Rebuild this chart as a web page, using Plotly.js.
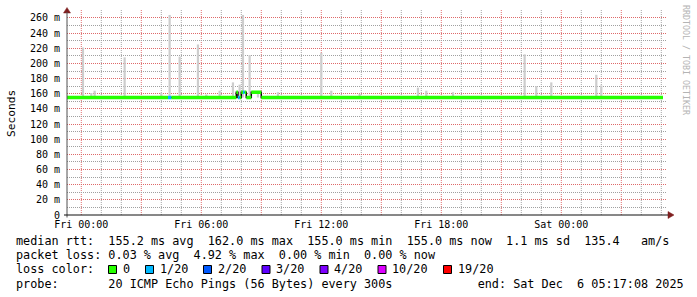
<!DOCTYPE html>
<html><head><meta charset="utf-8">
<script src="https://cdn.plot.ly/plotly-3.0.1.min.js"></script>
<style>html,body{margin:0;padding:0;background:#fff}#chart{width:697px;height:297px}</style>
</head><body><div id="chart"></div>
<script>
// ---------- data ----------
const rangeStart = '2025-12-04 23:17:08';
const rangeEnd = '2025-12-06 05:17:08';
const dataStart = '2025-12-04 23:15:00';
const dataEnd = '2025-12-06 05:05:00';
const stepSeconds = 300;
const baseMedian = 155;      // ms
// median changes (segments where median differs from base)
const medSegStart = ['2025-12-05 07:45', '2025-12-05 08:00', '2025-12-05 08:30'];
const medSegEnd   = ['2025-12-05 07:50', '2025-12-05 08:15', '2025-12-05 09:00'];
const medSegValue = [162, 162, 162];
// packet loss (pings lost out of 20)
const lossSegStart = ['2025-12-05 04:20', '2025-12-05 07:50', '2025-12-05 08:05'];
const lossSegEnd   = ['2025-12-05 04:30', '2025-12-05 07:55', '2025-12-05 08:10'];
const lossSegValue = [1, 1, 1];
// smoke (spread of ping rtts) spikes
const spikeTimes = ['2025-12-05 00:05','2025-12-05 00:30','2025-12-05 00:40','2025-12-05 02:10',
  '2025-12-05 04:00','2025-12-05 04:25','2025-12-05 04:55','2025-12-05 05:50','2025-12-05 06:15',
  '2025-12-05 06:55','2025-12-05 07:35','2025-12-05 07:55','2025-12-05 08:05','2025-12-05 08:25',
  '2025-12-05 08:50','2025-12-05 09:50','2025-12-05 12:00','2025-12-05 12:30','2025-12-05 13:55',
  '2025-12-05 16:50','2025-12-05 17:15','2025-12-05 18:35','2025-12-05 22:10','2025-12-05 22:45',
  '2025-12-05 23:30','2025-12-06 01:45','2025-12-06 02:00'];
const spikeLow  = [155,155,155,155,155,155,155,155,155,155,155,155,155,155,155,155,155,155,155,155,155,155,155,155,155,155,155];
const spikeHigh = [221,161,164,208,161,264,209,225,159,164,175,172,264,211,160,162,214,164,160,168,164,162,212,170,175,185,171];

const lossLabels = ['0', '1/20', '2/20', '3/20', '4/20', '10/20', '19/20'];
const lossThresholds = [0, 1, 2, 3, 4, 10, 19];
const lossColors = ['#26ff00', '#00b8ff', '#0059ff', '#5e00ff', '#7e00ff', '#dd00ff', '#ff0000'];

const xTickVals = ['2025-12-05 00:00','2025-12-05 03:00','2025-12-05 06:00','2025-12-05 09:00',
  '2025-12-05 12:00','2025-12-05 15:00','2025-12-05 18:00','2025-12-05 21:00','2025-12-06 00:00','2025-12-06 03:00'];
const xTickText = ['Fri 00:00','','Fri 06:00','','Fri 12:00','','Fri 18:00','','Sat 00:00',''];
const xMinorHours = 1;   // minor grid every hour
const yTickVals = [0,20,40,60,80,100,120,140,160,180,200,220,240,260];
const yTickText = ['0','20 m','40 m','60 m','80 m','100 m','120 m','140 m','160 m','180 m','200 m','220 m','240 m','260 m'];

const rttStats = [155.2, 162.0, 155.0, 155.0, 1.1];
const amPerSec = 135.4;
const lossStats = [0.03, 4.92, 0.00, 0.00];
const probeText = '20 ICMP Echo Pings (56 Bytes) every 300s';
const endText = 'end: Sat Dec  6 05:17:08 2025';

// ---------- helpers ----------
function ms(s){ const p = s.match(/\d+/g).map(Number); return Date.UTC(p[0], p[1]-1, p[2], p[3]||0, p[4]||0, p[5]||0); }
function ds(v){ return new Date(v).toISOString().replace('T',' ').slice(0,19); }
const L = 67, R = 30, T = 10, B = 82, W = 697, H = 297;
const PW = W - L - R, PH = H - T - B;
const px = p => (p - L) / PW;
const py = p => (T + PH - p) / PH;
const nb = s => s.replace(/ /g, '\u00a0');

// ---------- build steps ----------
const stepMs = stepSeconds * 1000;
const steps = [];
for (let t = ms(dataStart); t < ms(dataEnd); t += stepMs) {
  let m = baseMedian, loss = 0;
  medSegStart.forEach((s, i) => { if (t >= ms(s) && t < ms(medSegEnd[i])) m = medSegValue[i]; });
  lossSegStart.forEach((s, i) => { if (t >= ms(s) && t < ms(lossSegEnd[i])) loss = lossSegValue[i]; });
  let ci = 0; lossThresholds.forEach((th, i) => { if (loss >= th) ci = i; });
  steps.push({t, m, ci});
}

const traces = [];
// smoke
traces.push({
  type: 'bar', x: spikeTimes.map(s => ds(ms(s))), y: spikeHigh.map((h, i) => h - spikeLow[i]),
  base: spikeLow, width: 400000, marker: {color: '#cdcdcd', line: {width: 0}},
  hoverinfo: 'skip', showlegend: false
});
// median black step line
traces.push({
  type: 'scatter', mode: 'lines', x: steps.map(s => ds(s.t)).concat([ds(steps[steps.length-1].t + stepMs)]),
  y: steps.map(s => s.m).concat([steps[steps.length-1].m]),
  line: {color: '#000', width: 1.5, shape: 'hv'}, hoverinfo: 'skip', showlegend: false
});
// colored median segments by loss
lossColors.forEach((col, ci) => {
  const xs = [], ys = [];
  let i = 0;
  while (i < steps.length) {
    if (steps[i].ci !== ci) { i++; continue; }
    let j = i;
    while (j + 1 < steps.length && steps[j+1].ci === ci && steps[j+1].m === steps[i].m) j++;
    xs.push(ds(steps[i].t), ds(steps[j].t + stepMs), null);
    ys.push(steps[i].m, steps[i].m, null);
    i = j + 1;
  }
  if (xs.length) traces.push({type: 'scatter', mode: 'lines', x: xs, y: ys, connectgaps: false,
    line: {color: col, width: 3.5}, hoverinfo: 'skip', showlegend: false});
});

// ---------- annotations & shapes ----------
const mono = 'DejaVu Sans Mono, monospace';
const legFont = {family: mono, size: 11.8, color: '#000'};
const ann = [];
const shapes = [];
// vertical grid lines (hourly minor, 3-hourly major from tick positions)
const majorSet = new Set(xTickVals.map(ms));
for (let t = ms(xTickVals[0]); t <= ms(rangeEnd); t += xMinorHours * 3600000) {
  const major = majorSet.has(t);
  shapes.push({type: 'line', xref: 'x', yref: 'paper', layer: 'below', x0: ds(t), x1: ds(t), y0: 0, y1: 1,
    line: {color: major ? 'rgb(225,110,110)' : 'rgb(165,165,165)', width: 1, dash: '1px,1px'}});
}
function txt(x, y, s, font) {
  ann.push({xref: 'paper', yref: 'paper', x: px(x), y: py(y), text: nb(s), showarrow: false,
    xanchor: 'left', yanchor: 'middle', borderpad: 0, borderwidth: 0, font: font || legFont});
}
const names = ['avg', 'max', 'min', 'now', 'sd'];
txt(16, 241, 'median rtt:  ' + rttStats.map((v, i) => v.toFixed(1) + ' ms ' + names[i]).join('  ') +
  '  ' + amPerSec.toFixed(1) + '   am/s');
txt(16, 255, 'packet loss: ' + lossStats.map((v, i) => v.toFixed(2) + ' % ' + names[i]).join('  '));
txt(16, 269, 'loss color:');
const boxX = [108.5, 145.5, 203.5, 262, 320, 378, 443.5];
lossLabels.forEach((lab, i) => {
  shapes.push({type: 'rect', xref: 'paper', yref: 'paper', x0: px(boxX[i]), x1: px(boxX[i] + 8),
    y0: py(265.5), y1: py(273.5), fillcolor: lossColors[i], line: {color: '#000', width: 1}});
  txt(boxX[i] + 14, 269, lab);
});
txt(16, 284, 'probe:       ' + probeText + '            ' + endText);
// y title
ann.push({xref: 'paper', yref: 'paper', x: px(11), y: py(114), text: 'Seconds', textangle: -90,
  showarrow: false, xanchor: 'center', yanchor: 'middle', font: {family: mono, size: 11.2, color: '#000'}});
// watermark
ann.push({xref: 'paper', yref: 'paper', x: px(686), y: py(60), text: nb('RRDTOOL / TOBI OETIKER'), textangle: 90,
  showarrow: false, xanchor: 'center', yanchor: 'middle', font: {family: mono, size: 8.3, color: '#b4b4b4'}});

// axis arrows
shapes.push({type: 'path', xref: 'paper', yref: 'paper', layer: 'above',
  path: `M${px(63.5)},${py(13)} L${px(70.5)},${py(13)} L${px(67)},${py(7.5)} Z`,
  fillcolor: '#7f1f1f', line: {color: '#7f1f1f', width: 0.5}});
shapes.push({type: 'path', xref: 'paper', yref: 'paper', layer: 'above',
  path: `M${px(668)},${py(211.5)} L${px(668)},${py(218.5)} L${px(674)},${py(215)} Z`,
  fillcolor: '#7f1f1f', line: {color: '#7f1f1f', width: 0.5}});
// axis lines
shapes.push({type: 'line', xref: 'paper', yref: 'paper', layer: 'above', x0: px(67), x1: px(67), y0: py(217.5), y1: py(12),
  line: {color: '#505050', width: 1}});
shapes.push({type: 'line', xref: 'paper', yref: 'paper', layer: 'above', x0: px(64), x1: px(668), y0: py(215), y1: py(215),
  line: {color: '#101010', width: 1}});

const layout = {
  width: W, height: H, margin: {l: L, r: R, t: T, b: B, pad: 0},
  paper_bgcolor: '#fff', plot_bgcolor: '#fff', showlegend: false, barmode: 'overlay',
  xaxis: {type: 'date', range: [rangeStart, rangeEnd], tickmode: 'array', tickvals: xTickVals, ticktext: xTickText,
    showgrid: false, zeroline: false, showline: false,
    ticks: '', ticklabelstandoff: 2, tickfont: {family: mono, size: 10, color: '#000'}},
  yaxis: {range: [0, 270.5], tickmode: 'array', tickvals: yTickVals, ticktext: yTickText,
    showgrid: true, gridcolor: 'rgb(222,105,105)', griddash: '1px,1px', gridwidth: 1, zeroline: false, showline: false,
    ticks: '', ticklabelstandoff: 6, tickfont: {family: mono, size: 10, color: '#000'},
    minor: {tick0: 0, dtick: 10, showgrid: true, gridcolor: 'rgb(160,160,160)', griddash: '1px,1px', gridwidth: 1}},
  annotations: ann, shapes: shapes
};
Plotly.newPlot('chart', traces, layout, {staticPlot: true, displayModeBar: false});
</script></body></html>
